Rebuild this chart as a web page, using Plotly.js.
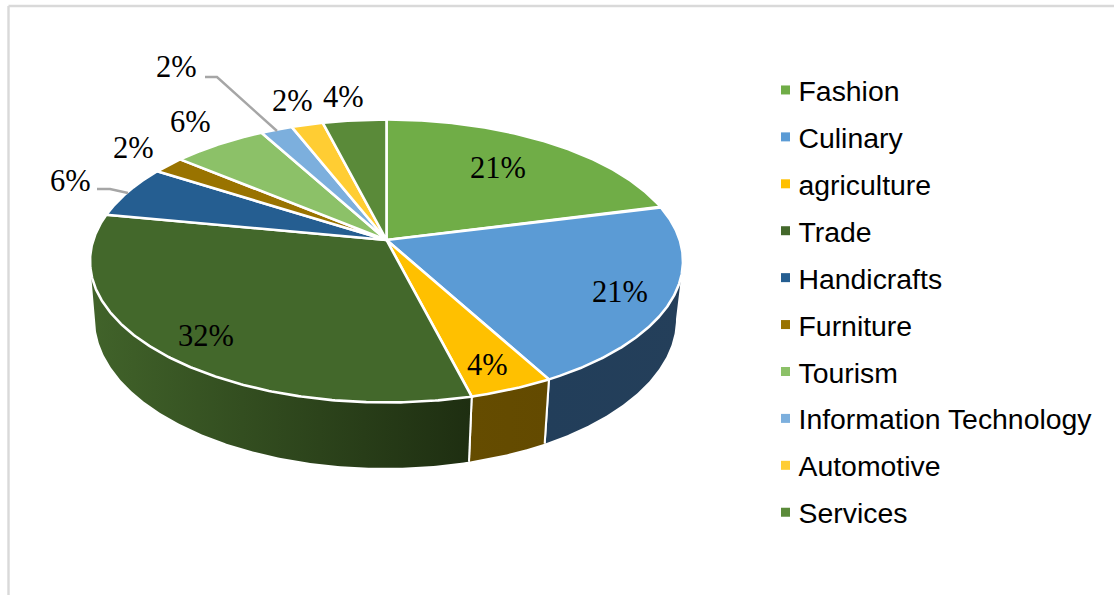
<!DOCTYPE html>
<html>
<head>
<meta charset="utf-8">
<script src="https://cdn.plot.ly/plotly-3.0.1.min.js"></script>
<style>html,body{margin:0;padding:0;background:#fff}#chart{width:1114px;height:595px}</style>
</head>
<body>
<div id="chart"></div>
<script>
// DATA
const categories = ["Fashion","Culinary","agriculture","Trade","Handicrafts","Furniture","Tourism","Information Technology","Automotive","Services"];
const shares = [21,21,4,32,6,2,6,2,2,4];

// STYLE
const sliceColors = ["#70ad47","#5b9bd5","#ffc000","#43682b","#255e91","#997300","#8cc168","#7cafdd","#ffcd33","#5a8a39"];
const wallShadeStart = ["#000","#223e5a","#654c00","#41632a","#000","#000","#000","#000","#000","#000"];
const wallShadeEnd   = ["#000","#243f5a","#634a00","#1e2e11","#000","#000","#000","#000","#000","#000"];
const labelX = [498,620,487,206,70,133,190,176,292,343];
const labelY = [168,292,365,336,181,148,122,67,101,97];

// 3D-like pie geometry (in page pixels, axes are 1:1 with the page)
const top_ = {cx:386.5, cy:261, rx:296.5, ry:141.5};
const bot  = {cx:385.5, cy:319, rx:290.5, ry:149};
const apexV = (261-240)/141;

// perspective mapping of a circle point (fraction of the pie) to unit ellipse coordinates
function project(frac){
  const a = frac*2*Math.PI, x = Math.sin(a), y = Math.cos(a);
  const d = 1 + apexV*y;
  return {u: x*Math.sqrt(1-apexV*apexV)/d, v: (y+apexV)/d};
}
const px = (e,p)=>e.cx+e.rx*p.u, py = (e,p)=>e.cy-e.ry*p.v;

const total = shares.reduce((a,b)=>a+b,0);
const walls = [], tops = [], legendItems = [];
let cum = 0;
shares.forEach((s,i)=>{
  const pts = [], n = 240;
  for(let k=0;k<=n;k++) pts.push(project((cum+s*k/n)/total));
  cum += s;
  const front = pts.filter(p=>p.v<=0);
  if(front.length>1){
    const back = front.slice().reverse();
    walls.push({type:'scatter',mode:'lines',fill:'toself',hoverinfo:'skip',showlegend:false,
      x:front.map(p=>px(top_,p)).concat(back.map(p=>px(bot,p))),
      y:front.map(p=>py(top_,p)).concat(back.map(p=>py(bot,p))),
      line:{color:'rgba(0,0,0,0)',width:0},
      fillgradient:{type:'horizontal',colorscale:[[0,wallShadeStart[i]],[1,wallShadeEnd[i]]]}});
    [front[0],front[front.length-1]].forEach(p=>{
      if(Math.abs(p.v)<0.02) return;
      walls.push({type:'scatter',mode:'lines',hoverinfo:'skip',showlegend:false,
        x:[px(top_,p),px(bot,p)],y:[py(top_,p),py(bot,p)],line:{color:'#fff',width:2}});
    });
  }
  tops.push({type:'scatter',mode:'lines',fill:'toself',hoverinfo:'skip',showlegend:false,
    x:[top_.cx].concat(pts.map(p=>px(top_,p)),[top_.cx]),
    y:[240].concat(pts.map(p=>py(top_,p)),[240]),
    fillcolor:sliceColors[i],line:{color:'#fff',width:2.6}});
  legendItems.push({type:'scatter',mode:'markers',name:categories[i],legendgroup:'g'+i,showlegend:true,
    x:[null],y:[null],marker:{symbol:'square',size:9,color:sliceColors[i]}});
});

const annotations = shares.map((s,i)=>({x:labelX[i],y:labelY[i],xref:'x',yref:'y',text:s+'%',showarrow:false,
  xanchor:'center',yanchor:'middle',font:{family:'"Liberation Serif",serif',size:30.5,color:'#000'}}));

const shapes = [
  {type:'line',xref:'x',yref:'y',x0:8.5,y0:6,x1:1114,y1:6,line:{color:'#d9d9d9',width:2.4}},
  {type:'line',xref:'x',yref:'y',x0:8.5,y0:6,x1:8.5,y1:595,line:{color:'#d9d9d9',width:2.4}},
  {type:'path',xref:'x',yref:'y',path:'M97 189 L110 189 L128 193',line:{color:'#a6a6a6',width:2.4}},
  {type:'path',xref:'x',yref:'y',path:'M205 77 L217 77 L277 131',line:{color:'#a6a6a6',width:2.4}}
];

const layout = {
  width:1114,height:595,margin:{l:0,r:0,t:0,b:0},
  paper_bgcolor:'#fff',plot_bgcolor:'#fff',
  xaxis:{range:[0,1114],visible:false,fixedrange:true},
  yaxis:{range:[595,0],visible:false,fixedrange:true},
  annotations,shapes,
  showlegend:true,
  legend:{x:764/1114,y:1-65/595,xanchor:'left',yanchor:'top',bgcolor:'rgba(0,0,0,0)',
    font:{family:'"Liberation Sans",Arial,sans-serif',size:28.4,color:'#000'},
    tracegroupgap:7,indentation:-5.5,itemsizing:'trace'}
};
Plotly.newPlot('chart',walls.concat(tops,legendItems),layout,{displayModeBar:false,staticPlot:true}).then(gd=>{
  // bring the legend swatches closer to their labels
  gd.querySelectorAll('.legend .legendpoints').forEach(g=>{
    const t = g.getAttribute('transform') || '';
    g.setAttribute('transform', 'translate(7,0) ' + t);
  });
});
</script>
</body>
</html>
